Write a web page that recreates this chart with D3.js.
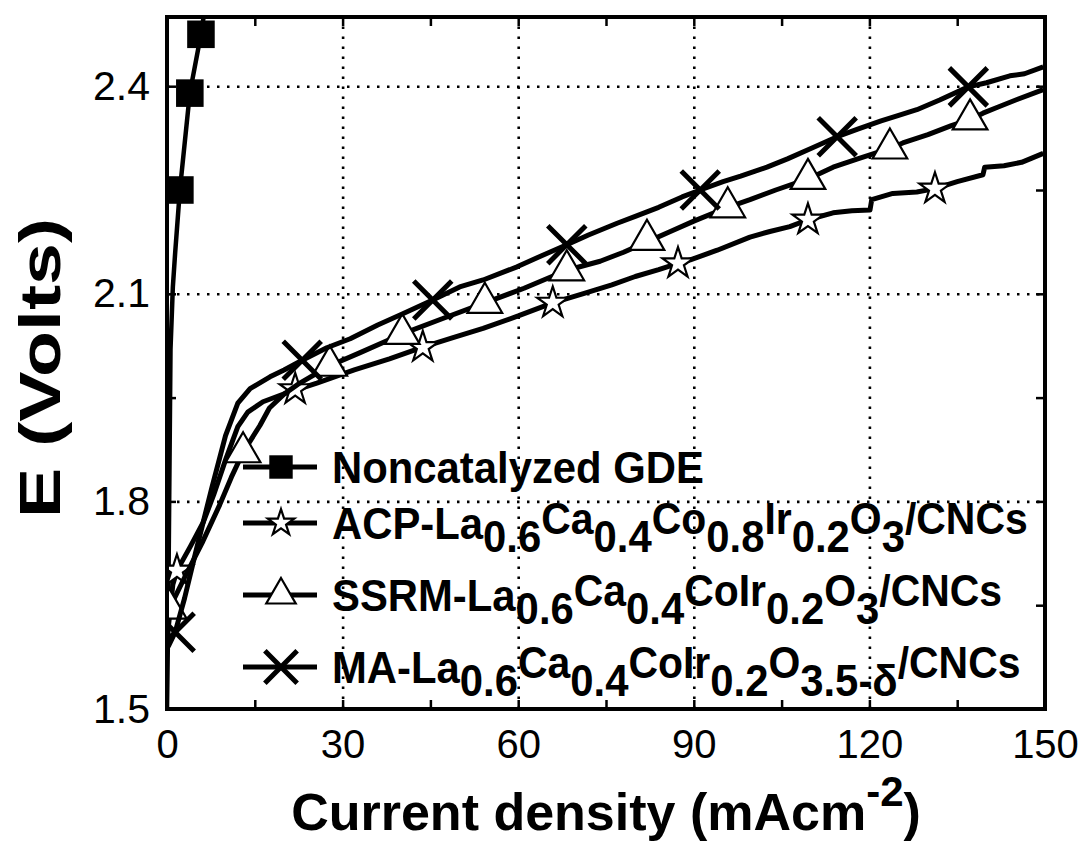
<!DOCTYPE html>
<html>
<head>
<meta charset="utf-8">
<script src="https://cdn.jsdelivr.net/npm/d3@7"></script>
<style>
  body { margin: 0; background: #fff; }
  text { font-family: "Liberation Sans", Arial, sans-serif; fill: #000; }
</style>
</head>
<body>
<div id="chart"></div>
<script>
// --- data (current density in mA/cm2, potential in V) ---
const noncatI = [0, 0.2, 0.6, 1.0, 1.4, 2.2, 3.9, 5.8, 6.8];
const noncatE = [1.5, 1.63, 2.02, 2.11, 2.16, 2.25, 2.39, 2.475, 2.53];
const noncatMarkI = [2.2, 3.9, 5.8];
const noncatMarkE = [2.25, 2.39, 2.475];

const acpI = [0, 0.5, 1.0, 1.7, 4, 6.2, 8, 10, 12.1, 13.8, 16.4, 20.5, 25.6, 32, 38, 43.7, 49, 54, 60, 65.9, 71, 76, 80, 84, 87.3, 89.4, 94, 99.6, 103, 106.4, 109.5, 113.8, 117, 120.1, 120.4, 124, 128.1, 131.2, 135, 139.4, 139.7, 143, 146, 149.7];
const acpE = [1.60, 1.64, 1.68, 1.70, 1.735, 1.77, 1.81, 1.86, 1.908, 1.929, 1.944, 1.957, 1.971, 1.99, 2.006, 2.023, 2.037, 2.05, 2.068, 2.087, 2.10, 2.113, 2.125, 2.135, 2.144, 2.149, 2.163, 2.182, 2.19, 2.197, 2.207, 2.217, 2.22, 2.221, 2.236, 2.245, 2.247, 2.252, 2.262, 2.272, 2.283, 2.285, 2.29, 2.303];
const acpMarkI = [1.7, 21.9, 43.7, 65.9, 87.3, 109.5, 131.2];
const acpMarkE = [1.70, 1.962, 2.023, 2.087, 2.144, 2.207, 2.252];

const ssrmI = [0, 0.4, 3, 6, 9, 11, 13, 15.9, 17.5, 20, 22.7, 27.8, 33, 40.2, 47, 54.3, 61, 68.3, 74, 78, 82, 86, 90, 95.8, 99.6, 104, 109.5, 113.8, 118, 123.5, 125.7, 130, 134, 137.2, 139.4, 142, 145, 149.7];
const ssrmE = [1.60, 1.645, 1.69, 1.74, 1.795, 1.835, 1.871, 1.91, 1.935, 1.955, 1.971, 1.996, 2.015, 2.042, 2.064, 2.087, 2.108, 2.134, 2.147, 2.16, 2.175, 2.19, 2.205, 2.225, 2.236, 2.25, 2.266, 2.283, 2.295, 2.31, 2.318, 2.33, 2.343, 2.352, 2.361, 2.37, 2.38, 2.395];
const ssrmMarkI = [0.4, 13, 27.8, 40.2, 54.3, 68.3, 82, 95.8, 109.5, 123.5, 137.2];
const ssrmMarkE = [1.645, 1.871, 1.996, 2.042, 2.087, 2.134, 2.178, 2.225, 2.266, 2.31, 2.352];

const maI = [0.2, 1.4, 3, 5, 7.7, 10, 12.1, 14.2, 17.6, 20, 23.1, 27.3, 31.3, 36, 40, 45.4, 50, 54, 59.8, 64, 68.3, 72, 76.9, 80, 84, 88, 91.1, 95, 98, 102.5, 106, 110, 114.5, 118, 122, 125, 128.1, 132, 136.9, 140, 144, 146.5, 149.7];
const maE = [1.59, 1.611, 1.66, 1.73, 1.821, 1.895, 1.942, 1.963, 1.98, 1.99, 2.004, 2.022, 2.035, 2.055, 2.07, 2.091, 2.11, 2.12, 2.139, 2.155, 2.171, 2.185, 2.202, 2.212, 2.225, 2.24, 2.25, 2.262, 2.27, 2.283, 2.295, 2.31, 2.327, 2.338, 2.35, 2.358, 2.366, 2.38, 2.399, 2.405, 2.415, 2.418, 2.428];
const maMarkI = [1.4, 23.1, 45.4, 68.3, 91.1, 114.5, 136.9];
const maMarkE = [1.611, 2.004, 2.091, 2.171, 2.25, 2.327, 2.399];

const xTicks = [0, 30, 60, 90, 120, 150];
const yTicks = [1.5, 1.8, 2.1, 2.4];

// legend labels: n = normal, s = subscript, r = raised
const legendLabels = [
    [["Noncatalyzed GDE", "n"]],
    [["ACP-La", "n"], ["0.6", "s"], ["Ca", "r"], ["0.4", "s"], ["Co", "r"], ["0.8", "s"], ["Ir", "r"], ["0.2", "s"], ["O", "r"], ["3", "s"], ["/CNCs", "r"]],
    [["SSRM-La", "n"], ["0.6", "s"], ["Ca", "r"], ["0.4", "s"], ["CoIr", "r"], ["0.2", "s"], ["O", "r"], ["3", "s"], ["/CNCs", "r"]],
    [["MA-La", "n"], ["0.6", "s"], ["Ca", "r"], ["0.4", "s"], ["CoIr", "r"], ["0.2", "s"], ["O", "r"], ["3.5-δ", "s"], ["/CNCs", "r"]]
];

// ---------------------------------------------------------------
let margin = {top: 17, right: 40, bottom: 137, left: 167},
    width = 1085 - margin.left - margin.right,
    height = 846 - margin.top - margin.bottom;

let svg = d3.select("#chart")
    .append("svg")
    .attr("width", 1085)
    .attr("height", 846);

let g = svg.append("g")
    .attr("transform", `translate(${margin.left},${margin.top})`);

let x = d3.scaleLinear().domain([0, 150]).range([0, width]);
let y = d3.scaleLinear().domain([1.5, 2.5]).range([height, 0]);

svg.append("defs").append("clipPath").attr("id", "plotclip")
    .append("rect").attr("width", width).attr("height", height);

// dotted grid
g.append("g")
    .attr("class", "grid")
    .attr("transform", `translate(0,${height})`)
    .call(d3.axisBottom(x).tickValues([30, 60, 90, 120]).tickSize(-height).tickFormat(""))
    .call(s => s.select(".domain").remove());
g.append("g")
    .attr("class", "grid")
    .call(d3.axisLeft(y).tickValues([1.8, 2.1, 2.4]).tickSize(-width).tickFormat(""))
    .call(s => s.select(".domain").remove());
g.selectAll(".grid line")
    .attr("stroke", "#000")
    .attr("stroke-width", 2.6)
    .attr("stroke-dasharray", "2.5,7.5");

// inward ticks, all four sides
let minorX = d3.range(0, 151, 15), minorY = d3.range(1.5, 2.51, 0.15);
g.append("g").attr("transform", `translate(0,${height})`)
    .call(d3.axisBottom(x).tickValues(minorX).tickSize(-9).tickFormat(""));
g.append("g")
    .call(d3.axisTop(x).tickValues(minorX).tickSize(-9).tickFormat(""));
g.append("g")
    .call(d3.axisLeft(y).tickValues(minorY).tickSize(-9).tickFormat(""));
g.append("g").attr("transform", `translate(${width},0)`)
    .call(d3.axisRight(y).tickValues(minorY).tickSize(-9).tickFormat(""));
g.selectAll(".tick line").filter(function() { return !this.closest(".grid"); })
    .attr("stroke", "#000").attr("stroke-width", 2.5);
g.selectAll(".domain").remove();

// tick labels
g.append("g").attr("transform", `translate(0,${height})`)
    .call(d3.axisBottom(x).tickValues(xTicks).tickSize(0).tickPadding(21).tickFormat(d3.format("d")))
    .call(s => s.select(".domain").remove())
    .selectAll("text").attr("font-size", 40);
g.append("g")
    .call(d3.axisLeft(y).tickValues(yTicks).tickSize(0).tickPadding(17).tickFormat(d3.format(".1f")))
    .call(s => s.select(".domain").remove())
    .selectAll("text").attr("font-size", 41);
g.selectAll(".tick text").attr("fill", "#000").attr("font-family", "Liberation Sans, Arial, sans-serif");

// series
let line = d3.line().x(d => x(d[0])).y(d => y(d[1]));
let plot = g.append("g").attr("clip-path", "url(#plotclip)");

const markerPath = {
    square: d3.symbol(d3.symbolSquare, 760)(),
    star: d3.symbol(d3.symbolStar, 300)(),
    triangle: d3.symbol(d3.symbolTriangle, 520)(),
    cross: "M-19,-19L19,19M-19,19L19,-19"
};
const markerStyle = {
    square: {fill: "#000", stroke: "none", sw: 0},
    star: {fill: "#fff", stroke: "#000", sw: 2.2},
    triangle: {fill: "#fff", stroke: "#000", sw: 2.2},
    cross: {fill: "none", stroke: "#000", sw: 5}
};

const series = [
    {I: noncatI, E: noncatE, mI: noncatMarkI, mE: noncatMarkE, marker: "square", lw: 4.5},
    {I: acpI, E: acpE, mI: acpMarkI, mE: acpMarkE, marker: "star", lw: 5},
    {I: ssrmI, E: ssrmE, mI: ssrmMarkI, mE: ssrmMarkE, marker: "triangle", lw: 5},
    {I: maI, E: maE, mI: maMarkI, mE: maMarkE, marker: "cross", lw: 5}
];

series.forEach(s => {
    plot.append("path")
        .datum(s.I.map((v, i) => [v, s.E[i]]))
        .attr("fill", "none")
        .attr("stroke", "#000")
        .attr("stroke-width", s.lw)
        .attr("stroke-linejoin", "round")
        .attr("d", line);
    let st = markerStyle[s.marker];
    plot.append("g").selectAll("path")
        .data(s.mI.map((v, i) => [v, s.mE[i]]))
        .enter()
        .append("path")
        .attr("transform", d => `translate(${x(d[0])},${y(d[1])})`)
        .attr("d", markerPath[s.marker])
        .attr("fill", st.fill)
        .attr("stroke", st.stroke)
        .attr("stroke-width", st.sw)
        .attr("stroke-linejoin", "miter");
});

// axes box
g.append("rect")
    .attr("width", width).attr("height", height)
    .attr("fill", "none").attr("stroke", "#000").attr("stroke-width", 4);

// legend
const legendY = [450, 506, 578, 650];
const chunkStyle = {n: {size: 45, off: 0}, s: {size: 45, off: 13}, r: {size: 44, off: -5}};
let legend = g.append("g");
legendLabels.forEach((chunks, i) => {
    let ly = legendY[i];
    let m = series[i].marker, st = markerStyle[m];
    legend.append("line")
        .attr("x1", 76).attr("x2", 150).attr("y1", ly).attr("y2", ly)
        .attr("stroke", "#000").attr("stroke-width", 5);
    legend.append("path")
        .attr("transform", `translate(114,${ly}) scale(0.85)`)
        .attr("d", markerPath[m])
        .attr("fill", st.fill).attr("stroke", st.stroke)
        .attr("stroke-width", st.sw / 0.85);
    // the legend lettering is a little narrower than Arial
    let t = legend.append("text")
        .attr("transform", `translate(165,${ly + 16}) scale(0.93,1)`)
        .attr("font-weight", "bold");
    let cur = 0;
    chunks.forEach(c => {
        let cs = chunkStyle[c[1]];
        t.append("tspan")
            .attr("dy", cs.off - cur)
            .attr("font-size", cs.size)
            .text(c[0]);
        cur = cs.off;
    });
});

// axis titles
let xt = svg.append("text")
    .attr("x", margin.left + width / 2).attr("y", 830)
    .attr("text-anchor", "middle")
    .attr("font-size", 52).attr("font-weight", "bold");
xt.append("tspan").text("Current density (mAcm");
xt.append("tspan").attr("dy", -24).attr("font-size", 42).text("-2");
xt.append("tspan").attr("dy", 24).text(")");

svg.append("text")
    .attr("transform", `translate(60,368) rotate(-90)`)
    .attr("text-anchor", "middle")
    .attr("font-size", 57).attr("font-weight", "bold")
    .attr("textLength", 300).attr("lengthAdjust", "spacingAndGlyphs")
    .text("E (Volts)");
</script>
</body>
</html>
